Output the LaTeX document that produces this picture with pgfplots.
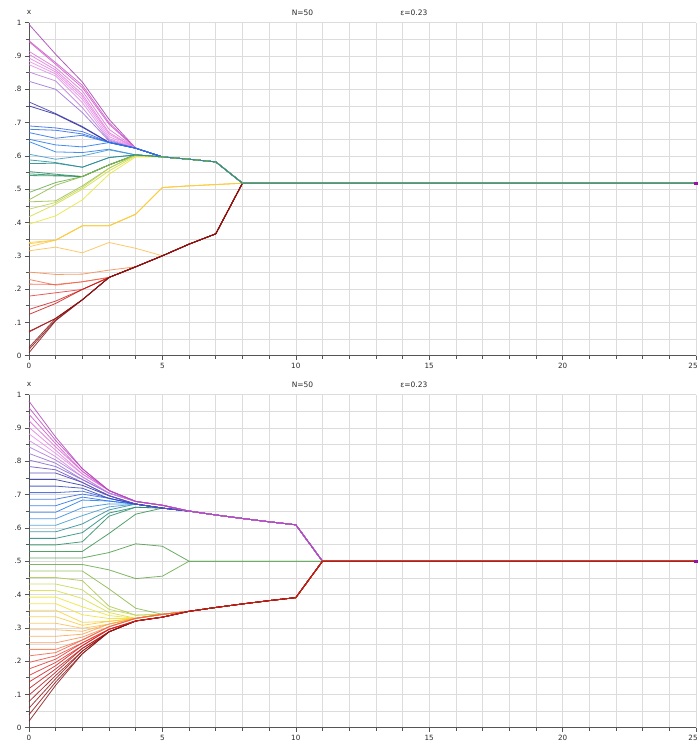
\documentclass[border=0pt]{standalone}
\usepackage{pgfplots}
\pgfplotsset{compat=1.18}
\usepackage{fontspec}
\setmainfont{DejaVu Sans}
\definecolor{gridc}{RGB}{220,220,220}
\definecolor{axc}{RGB}{85,85,85}
\definecolor{txtc}{RGB}{40,40,40}
\definecolor{endc}{RGB}{150,20,160}
\pgfplotsset{
 colormap={hkmap}{rgb255(0pt)=(130,20,20) rgb255(8pt)=(160,25,25) rgb255(14pt)=(215,35,35) rgb255(19pt)=(235,70,60) rgb255(23pt)=(245,115,80) rgb255(27pt)=(250,160,80) rgb255(32pt)=(252,195,80) rgb255(35pt)=(250,210,50) rgb255(39pt)=(238,232,50) rgb255(44pt)=(190,210,80) rgb255(48pt)=(120,175,70) rgb255(53pt)=(50,145,80) rgb255(58pt)=(30,135,135) rgb255(61pt)=(70,155,215) rgb255(65pt)=(30,120,240) rgb255(70pt)=(60,100,220) rgb255(75pt)=(45,45,160) rgb255(80pt)=(130,100,210) rgb255(84pt)=(170,120,220) rgb255(88pt)=(235,145,235) rgb255(94pt)=(210,90,205) rgb255(100pt)=(160,60,175)},
 hk/.style={color of colormap={#1 of hkmap}, draw=., line width=0.8pt, opacity=0.85, mark=none},
 hkaxis/.style={
  scale only axis, width=667pt, height=333pt,
  xmin=0, xmax=25, ymin=0, ymax=1,
  axis x line*=bottom, axis y line*=left,
  xtick={0,5,10,15,20}, minor xtick={1,2,3,4,6,7,8,9,11,12,13,14,16,17,18,19,21,22,23,24},
  extra x ticks={25},
  extra x tick style={xticklabel style={xshift=-3pt}},
  ytick={0,0.1,0.2,0.3,0.4,0.5,0.6,0.7,0.8,0.9,1},
  minor ytick={0.05,0.15,0.25,0.35,0.45,0.55,0.65,0.75,0.85,0.95},
  grid=both,
  major grid style={draw=gridc, line width=0.6pt},
  minor grid style={draw=gridc, line width=0.6pt},
  tick align=outside, major tick length=4pt, minor tick length=3pt,
  tick style={draw=axc, line width=0.6pt},
  axis line style={draw=axc, line width=0.9pt},
  ticklabel style={font=\fontsize{7.2}{8}\selectfont, text=txtc},
  /pgf/number format/assume math mode=true,
  yticklabel style={/pgf/number format/fixed, /pgf/number format/skip 0.},
  clip=false,
 }
}
\begin{document}
\begin{tikzpicture}
\path[use as bounding box] (0pt,0pt) rectangle (699pt,-749pt);
% ---------------- top panel: random initial opinions
\begin{axis}[hkaxis, at={(29pt,-355.7pt)}, anchor=south west]
\node[font=\fontsize{7.5}{9}\selectfont, text=txtc] at (rel axis cs:0,1.032) {x};
\node[font=\fontsize{7.5}{9}\selectfont, text=txtc] at (rel axis cs:0.41,1.031) {N=50};
\node[font=\fontsize{7.5}{9}\selectfont, text=txtc] at (rel axis cs:0.577,1.031) {ε=0.23};
% lower group
\addplot[hk=315] coordinates {(0,0.315)(1,0.326)(2,0.309)(3,0.340)(4,0.3225)(5,0.300)(6,0.335)(7,0.366)(8,0.518)(25,0.518)};
\addplot[hk=251] coordinates {(0,0.251)(1,0.244)(2,0.245)(3,0.257)(4,0.267)(5,0.300)(6,0.335)(7,0.366)(8,0.518)(25,0.518)};
\addplot[hk=229] coordinates {(0,0.229)(1,0.212)(2,0.222)(3,0.235)(4,0.267)(5,0.300)(6,0.335)(7,0.366)(8,0.518)(25,0.518)};
\addplot[hk=215] coordinates {(0,0.215)(1,0.214)(2,0.222)(3,0.235)(4,0.267)(5,0.300)(6,0.335)(7,0.366)(8,0.518)(25,0.518)};
\addplot[hk=179] coordinates {(0,0.179)(1,0.189)(2,0.199)(3,0.235)(4,0.267)(5,0.300)(6,0.335)(7,0.366)(8,0.518)(25,0.518)};
\addplot[hk=139] coordinates {(0,0.139)(1,0.164)(2,0.199)(3,0.235)(4,0.267)(5,0.300)(6,0.335)(7,0.366)(8,0.518)(25,0.518)};
\addplot[hk=124] coordinates {(0,0.124)(1,0.157)(2,0.199)(3,0.235)(4,0.267)(5,0.300)(6,0.335)(7,0.366)(8,0.518)(25,0.518)};
\addplot[hk=73] coordinates {(0,0.073)(1,0.112)(2,0.168)(3,0.235)(4,0.267)(5,0.300)(6,0.335)(7,0.366)(8,0.518)(25,0.518)};
\addplot[hk=71] coordinates {(0,0.071)(1,0.112)(2,0.168)(3,0.235)(4,0.267)(5,0.300)(6,0.335)(7,0.366)(8,0.518)(25,0.518)};
\addplot[hk=25] coordinates {(0,0.025)(1,0.112)(2,0.168)(3,0.235)(4,0.267)(5,0.300)(6,0.335)(7,0.366)(8,0.518)(25,0.518)};
\addplot[hk=19] coordinates {(0,0.019)(1,0.107)(2,0.168)(3,0.235)(4,0.267)(5,0.300)(6,0.335)(7,0.366)(8,0.518)(25,0.518)};
\addplot[hk=9] coordinates {(0,0.009)(1,0.105)(2,0.168)(3,0.235)(4,0.267)(5,0.300)(6,0.335)(7,0.366)(8,0.518)(25,0.518)};
% middle (gold) group
\addplot[hk=327] coordinates {(0,0.327)(1,0.347)(2,0.390)(3,0.390)(4,0.425)(5,0.505)(6,0.510)(7,0.514)(8,0.518)(25,0.518)};
\addplot[hk=336] coordinates {(0,0.336)(1,0.347)(2,0.390)(3,0.390)(4,0.425)(5,0.505)(6,0.510)(7,0.514)(8,0.518)(25,0.518)};
\addplot[hk=340] coordinates {(0,0.340)(1,0.347)(2,0.390)(3,0.390)(4,0.425)(5,0.505)(6,0.510)(7,0.514)(8,0.518)(25,0.518)};
% upper group
\addplot[hk=995] coordinates {(0,0.995)(1,0.905)(2,0.822)(3,0.710)(4,0.623)(5,0.597)(6,0.590)(7,0.582)(8,0.518)(25,0.518)};
\addplot[hk=946] coordinates {(0,0.946)(1,0.880)(2,0.812)(3,0.700)(4,0.623)(5,0.597)(6,0.590)(7,0.582)(8,0.518)(25,0.518)};
\addplot[hk=943] coordinates {(0,0.943)(1,0.875)(2,0.805)(3,0.695)(4,0.623)(5,0.597)(6,0.590)(7,0.582)(8,0.518)(25,0.518)};
\addplot[hk=914] coordinates {(0,0.914)(1,0.865)(2,0.795)(3,0.680)(4,0.623)(5,0.597)(6,0.590)(7,0.582)(8,0.518)(25,0.518)};
\addplot[hk=905] coordinates {(0,0.905)(1,0.858)(2,0.785)(3,0.670)(4,0.623)(5,0.597)(6,0.590)(7,0.582)(8,0.518)(25,0.518)};
\addplot[hk=894] coordinates {(0,0.894)(1,0.852)(2,0.778)(3,0.665)(4,0.623)(5,0.597)(6,0.590)(7,0.582)(8,0.518)(25,0.518)};
\addplot[hk=884] coordinates {(0,0.884)(1,0.846)(2,0.770)(3,0.658)(4,0.623)(5,0.597)(6,0.590)(7,0.582)(8,0.518)(25,0.518)};
\addplot[hk=874] coordinates {(0,0.874)(1,0.840)(2,0.760)(3,0.652)(4,0.623)(5,0.597)(6,0.590)(7,0.582)(8,0.518)(25,0.518)};
\addplot[hk=852] coordinates {(0,0.852)(1,0.825)(2,0.745)(3,0.648)(4,0.623)(5,0.597)(6,0.590)(7,0.582)(8,0.518)(25,0.518)};
\addplot[hk=824] coordinates {(0,0.824)(1,0.800)(2,0.730)(3,0.645)(4,0.623)(5,0.597)(6,0.590)(7,0.582)(8,0.518)(25,0.518)};
\addplot[hk=762] coordinates {(0,0.762)(1,0.727)(2,0.688)(3,0.641)(4,0.623)(5,0.597)(6,0.590)(7,0.582)(8,0.518)(25,0.518)};
\addplot[hk=750] coordinates {(0,0.750)(1,0.725)(2,0.686)(3,0.640)(4,0.623)(5,0.597)(6,0.590)(7,0.582)(8,0.518)(25,0.518)};
\addplot[hk=690] coordinates {(0,0.690)(1,0.684)(2,0.673)(3,0.641)(4,0.623)(5,0.597)(6,0.590)(7,0.582)(8,0.518)(25,0.518)};
\addplot[hk=680] coordinates {(0,0.680)(1,0.677)(2,0.666)(3,0.641)(4,0.623)(5,0.597)(6,0.590)(7,0.582)(8,0.518)(25,0.518)};
\addplot[hk=670] coordinates {(0,0.670)(1,0.653)(2,0.662)(3,0.640)(4,0.623)(5,0.597)(6,0.590)(7,0.582)(8,0.518)(25,0.518)};
\addplot[hk=650] coordinates {(0,0.650)(1,0.633)(2,0.627)(3,0.640)(4,0.623)(5,0.597)(6,0.590)(7,0.582)(8,0.518)(25,0.518)};
\addplot[hk=643] coordinates {(0,0.643)(1,0.612)(2,0.610)(3,0.620)(4,0.603)(5,0.597)(6,0.590)(7,0.582)(8,0.518)(25,0.518)};
\addplot[hk=605] coordinates {(0,0.605)(1,0.590)(2,0.600)(3,0.618)(4,0.603)(5,0.597)(6,0.590)(7,0.582)(8,0.518)(25,0.518)};
\addplot[hk=553] coordinates {(0,0.553)(1,0.545)(2,0.538)(3,0.573)(4,0.603)(5,0.597)(6,0.590)(7,0.582)(8,0.518)(25,0.518)};
\addplot[hk=546] coordinates {(0,0.546)(1,0.542)(2,0.538)(3,0.573)(4,0.603)(5,0.597)(6,0.590)(7,0.582)(8,0.518)(25,0.518)};
\addplot[hk=541] coordinates {(0,0.541)(1,0.540)(2,0.538)(3,0.573)(4,0.603)(5,0.597)(6,0.590)(7,0.582)(8,0.518)(25,0.518)};
\addplot[hk=490] coordinates {(0,0.490)(1,0.520)(2,0.538)(3,0.573)(4,0.603)(5,0.597)(6,0.590)(7,0.582)(8,0.518)(25,0.518)};
\addplot[hk=468] coordinates {(0,0.468)(1,0.512)(2,0.538)(3,0.573)(4,0.603)(5,0.597)(6,0.590)(7,0.582)(8,0.518)(25,0.518)};
\addplot[hk=462] coordinates {(0,0.462)(1,0.465)(2,0.510)(3,0.563)(4,0.603)(5,0.597)(6,0.590)(7,0.582)(8,0.518)(25,0.518)};
\addplot[hk=440] coordinates {(0,0.440)(1,0.460)(2,0.505)(3,0.563)(4,0.603)(5,0.597)(6,0.590)(7,0.582)(8,0.518)(25,0.518)};
\addplot[hk=417] coordinates {(0,0.417)(1,0.455)(2,0.500)(3,0.555)(4,0.600)(5,0.597)(6,0.590)(7,0.582)(8,0.518)(25,0.518)};
\addplot[hk=395] coordinates {(0,0.395)(1,0.420)(2,0.468)(3,0.545)(4,0.597)(5,0.597)(6,0.590)(7,0.582)(8,0.518)(25,0.518)};
\addplot[hk=577] coordinates {(0,0.577)(1,0.578)(2,0.566)(3,0.595)(4,0.603)(5,0.597)(6,0.590)(7,0.582)(8,0.518)(25,0.518)};
\addplot[hk=588] coordinates {(0,0.588)(1,0.580)(2,0.566)(3,0.595)(4,0.603)(5,0.597)(6,0.590)(7,0.582)(8,0.518)(25,0.518)};
\addplot[only marks, mark=square*, mark size=1.4pt, color=endc] coordinates {(25,0.518)};
\end{axis}
% ---------------- bottom panel: equidistant initial opinions
\begin{axis}[hkaxis, at={(29pt,-727.7pt)}, anchor=south west]
\node[font=\fontsize{7.5}{9}\selectfont, text=txtc] at (rel axis cs:0,1.032) {x};
\node[font=\fontsize{7.5}{9}\selectfont, text=txtc] at (rel axis cs:0.41,1.031) {N=50};
\node[font=\fontsize{7.5}{9}\selectfont, text=txtc] at (rel axis cs:0.577,1.031) {ε=0.23};
% upper group
\addplot[hk=529] coordinates {(0,0.5294)(1,0.5294)(2,0.5294)(3,0.5832)(4,0.6413)(5,0.6595)(6,0.6505)(7,0.6389)(8,0.6283)(9,0.6184)(10,0.6093)(11,0.5)(25,0.5)};
\addplot[hk=549] coordinates {(0,0.5490)(1,0.5490)(2,0.5584)(3,0.6351)(4,0.6621)(5,0.6595)(6,0.6505)(7,0.6389)(8,0.6283)(9,0.6184)(10,0.6093)(11,0.5)(25,0.5)};
\addplot[hk=569] coordinates {(0,0.5686)(1,0.5686)(2,0.5859)(3,0.6447)(4,0.6621)(5,0.6595)(6,0.6505)(7,0.6389)(8,0.6283)(9,0.6184)(10,0.6093)(11,0.5)(25,0.5)};
\addplot[hk=588] coordinates {(0,0.5882)(1,0.5882)(2,0.6120)(3,0.6541)(4,0.6716)(5,0.6595)(6,0.6505)(7,0.6389)(8,0.6283)(9,0.6184)(10,0.6093)(11,0.5)(25,0.5)};
\addplot[hk=608] coordinates {(0,0.6078)(1,0.6078)(2,0.6369)(3,0.6632)(4,0.6716)(5,0.6595)(6,0.6505)(7,0.6389)(8,0.6283)(9,0.6184)(10,0.6093)(11,0.5)(25,0.5)};
\addplot[hk=627] coordinates {(0,0.6275)(1,0.6275)(2,0.6607)(3,0.6721)(4,0.6716)(5,0.6595)(6,0.6505)(7,0.6389)(8,0.6283)(9,0.6184)(10,0.6093)(11,0.5)(25,0.5)};
\addplot[hk=647] coordinates {(0,0.6471)(1,0.6471)(2,0.6836)(3,0.6807)(4,0.6716)(5,0.6595)(6,0.6505)(7,0.6389)(8,0.6283)(9,0.6184)(10,0.6093)(11,0.5)(25,0.5)};
\addplot[hk=667] coordinates {(0,0.6667)(1,0.6667)(2,0.6926)(3,0.6807)(4,0.6716)(5,0.6595)(6,0.6505)(7,0.6389)(8,0.6283)(9,0.6184)(10,0.6093)(11,0.5)(25,0.5)};
\addplot[hk=686] coordinates {(0,0.6863)(1,0.6863)(2,0.7015)(3,0.6888)(4,0.6716)(5,0.6595)(6,0.6505)(7,0.6389)(8,0.6283)(9,0.6184)(10,0.6093)(11,0.5)(25,0.5)};
\addplot[hk=706] coordinates {(0,0.7059)(1,0.7059)(2,0.7104)(3,0.6888)(4,0.6716)(5,0.6595)(6,0.6505)(7,0.6389)(8,0.6283)(9,0.6184)(10,0.6093)(11,0.5)(25,0.5)};
\addplot[hk=725] coordinates {(0,0.7255)(1,0.7255)(2,0.7192)(3,0.6888)(4,0.6716)(5,0.6595)(6,0.6505)(7,0.6389)(8,0.6283)(9,0.6184)(10,0.6093)(11,0.5)(25,0.5)};
\addplot[hk=745] coordinates {(0,0.7451)(1,0.7451)(2,0.7279)(3,0.6967)(4,0.6716)(5,0.6595)(6,0.6505)(7,0.6389)(8,0.6283)(9,0.6184)(10,0.6093)(11,0.5)(25,0.5)};
\addplot[hk=765] coordinates {(0,0.7647)(1,0.7647)(2,0.7366)(3,0.6967)(4,0.6716)(5,0.6595)(6,0.6505)(7,0.6389)(8,0.6283)(9,0.6184)(10,0.6093)(11,0.5)(25,0.5)};
\addplot[hk=784] coordinates {(0,0.7843)(1,0.7745)(2,0.7366)(3,0.6967)(4,0.6716)(5,0.6595)(6,0.6505)(7,0.6389)(8,0.6283)(9,0.6184)(10,0.6093)(11,0.5)(25,0.5)};
\addplot[hk=804] coordinates {(0,0.8039)(1,0.7843)(2,0.7451)(3,0.7045)(4,0.6795)(5,0.6680)(6,0.6505)(7,0.6389)(8,0.6283)(9,0.6184)(10,0.6093)(11,0.5)(25,0.5)};
\addplot[hk=824] coordinates {(0,0.8235)(1,0.7941)(2,0.7451)(3,0.7045)(4,0.6795)(5,0.6680)(6,0.6505)(7,0.6389)(8,0.6283)(9,0.6184)(10,0.6093)(11,0.5)(25,0.5)};
\addplot[hk=843] coordinates {(0,0.8431)(1,0.8039)(2,0.7535)(3,0.7045)(4,0.6795)(5,0.6680)(6,0.6505)(7,0.6389)(8,0.6283)(9,0.6184)(10,0.6093)(11,0.5)(25,0.5)};
\addplot[hk=863] coordinates {(0,0.8627)(1,0.8137)(2,0.7535)(3,0.7045)(4,0.6795)(5,0.6680)(6,0.6505)(7,0.6389)(8,0.6283)(9,0.6184)(10,0.6093)(11,0.5)(25,0.5)};
\addplot[hk=882] coordinates {(0,0.8824)(1,0.8235)(2,0.7618)(3,0.7121)(4,0.6795)(5,0.6680)(6,0.6505)(7,0.6389)(8,0.6283)(9,0.6184)(10,0.6093)(11,0.5)(25,0.5)};
\addplot[hk=902] coordinates {(0,0.9020)(1,0.8333)(2,0.7618)(3,0.7121)(4,0.6795)(5,0.6680)(6,0.6505)(7,0.6389)(8,0.6283)(9,0.6184)(10,0.6093)(11,0.5)(25,0.5)};
\addplot[hk=922] coordinates {(0,0.9216)(1,0.8431)(2,0.7699)(3,0.7121)(4,0.6795)(5,0.6680)(6,0.6505)(7,0.6389)(8,0.6283)(9,0.6184)(10,0.6093)(11,0.5)(25,0.5)};
\addplot[hk=941] coordinates {(0,0.9412)(1,0.8529)(2,0.7699)(3,0.7121)(4,0.6795)(5,0.6680)(6,0.6505)(7,0.6389)(8,0.6283)(9,0.6184)(10,0.6093)(11,0.5)(25,0.5)};
\addplot[hk=961] coordinates {(0,0.9608)(1,0.8627)(2,0.7778)(3,0.7121)(4,0.6795)(5,0.6680)(6,0.6505)(7,0.6389)(8,0.6283)(9,0.6184)(10,0.6093)(11,0.5)(25,0.5)};
\addplot[hk=980] coordinates {(0,0.9804)(1,0.8725)(2,0.7778)(3,0.7121)(4,0.6795)(5,0.6680)(6,0.6505)(7,0.6389)(8,0.6283)(9,0.6184)(10,0.6093)(11,0.5)(25,0.5)};
% middle pair
\addplot[hk=490] coordinates {(0,0.4902)(1,0.4902)(2,0.4902)(3,0.4740)(4,0.4477)(5,0.4551)(6,0.5)(11,0.5)(25,0.5)};
\addplot[hk=510] coordinates {(0,0.5098)(1,0.5098)(2,0.5098)(3,0.5260)(4,0.5523)(5,0.5449)(6,0.5)(11,0.5)(25,0.5)};
% lower group
\addplot[hk=471] coordinates {(0,0.4706)(1,0.4706)(2,0.4706)(3,0.4168)(4,0.3587)(5,0.3405)(6,0.3495)(7,0.3611)(8,0.3717)(9,0.3816)(10,0.3907)(11,0.5)(25,0.5)};
\addplot[hk=451] coordinates {(0,0.4510)(1,0.4510)(2,0.4416)(3,0.3649)(4,0.3379)(5,0.3405)(6,0.3495)(7,0.3611)(8,0.3717)(9,0.3816)(10,0.3907)(11,0.5)(25,0.5)};
\addplot[hk=431] coordinates {(0,0.4314)(1,0.4314)(2,0.4141)(3,0.3553)(4,0.3379)(5,0.3405)(6,0.3495)(7,0.3611)(8,0.3717)(9,0.3816)(10,0.3907)(11,0.5)(25,0.5)};
\addplot[hk=412] coordinates {(0,0.4118)(1,0.4118)(2,0.3880)(3,0.3459)(4,0.3284)(5,0.3405)(6,0.3495)(7,0.3611)(8,0.3717)(9,0.3816)(10,0.3907)(11,0.5)(25,0.5)};
\addplot[hk=392] coordinates {(0,0.3922)(1,0.3922)(2,0.3631)(3,0.3368)(4,0.3284)(5,0.3405)(6,0.3495)(7,0.3611)(8,0.3717)(9,0.3816)(10,0.3907)(11,0.5)(25,0.5)};
\addplot[hk=373] coordinates {(0,0.3725)(1,0.3725)(2,0.3393)(3,0.3279)(4,0.3284)(5,0.3405)(6,0.3495)(7,0.3611)(8,0.3717)(9,0.3816)(10,0.3907)(11,0.5)(25,0.5)};
\addplot[hk=353] coordinates {(0,0.3529)(1,0.3529)(2,0.3164)(3,0.3193)(4,0.3284)(5,0.3405)(6,0.3495)(7,0.3611)(8,0.3717)(9,0.3816)(10,0.3907)(11,0.5)(25,0.5)};
\addplot[hk=333] coordinates {(0,0.3333)(1,0.3333)(2,0.3074)(3,0.3193)(4,0.3284)(5,0.3405)(6,0.3495)(7,0.3611)(8,0.3717)(9,0.3816)(10,0.3907)(11,0.5)(25,0.5)};
\addplot[hk=314] coordinates {(0,0.3137)(1,0.3137)(2,0.2985)(3,0.3112)(4,0.3284)(5,0.3405)(6,0.3495)(7,0.3611)(8,0.3717)(9,0.3816)(10,0.3907)(11,0.5)(25,0.5)};
\addplot[hk=294] coordinates {(0,0.2941)(1,0.2941)(2,0.2896)(3,0.3112)(4,0.3284)(5,0.3405)(6,0.3495)(7,0.3611)(8,0.3717)(9,0.3816)(10,0.3907)(11,0.5)(25,0.5)};
\addplot[hk=275] coordinates {(0,0.2745)(1,0.2745)(2,0.2808)(3,0.3112)(4,0.3284)(5,0.3405)(6,0.3495)(7,0.3611)(8,0.3717)(9,0.3816)(10,0.3907)(11,0.5)(25,0.5)};
\addplot[hk=255] coordinates {(0,0.2549)(1,0.2549)(2,0.2721)(3,0.3033)(4,0.3284)(5,0.3405)(6,0.3495)(7,0.3611)(8,0.3717)(9,0.3816)(10,0.3907)(11,0.5)(25,0.5)};
\addplot[hk=235] coordinates {(0,0.2353)(1,0.2353)(2,0.2634)(3,0.3033)(4,0.3284)(5,0.3405)(6,0.3495)(7,0.3611)(8,0.3717)(9,0.3816)(10,0.3907)(11,0.5)(25,0.5)};
\addplot[hk=216] coordinates {(0,0.2157)(1,0.2255)(2,0.2634)(3,0.3033)(4,0.3284)(5,0.3405)(6,0.3495)(7,0.3611)(8,0.3717)(9,0.3816)(10,0.3907)(11,0.5)(25,0.5)};
\addplot[hk=196] coordinates {(0,0.1961)(1,0.2157)(2,0.2549)(3,0.2955)(4,0.3205)(5,0.3320)(6,0.3495)(7,0.3611)(8,0.3717)(9,0.3816)(10,0.3907)(11,0.5)(25,0.5)};
\addplot[hk=176] coordinates {(0,0.1765)(1,0.2059)(2,0.2549)(3,0.2955)(4,0.3205)(5,0.3320)(6,0.3495)(7,0.3611)(8,0.3717)(9,0.3816)(10,0.3907)(11,0.5)(25,0.5)};
\addplot[hk=157] coordinates {(0,0.1569)(1,0.1961)(2,0.2465)(3,0.2955)(4,0.3205)(5,0.3320)(6,0.3495)(7,0.3611)(8,0.3717)(9,0.3816)(10,0.3907)(11,0.5)(25,0.5)};
\addplot[hk=118] coordinates {(0,0.1176)(1,0.1765)(2,0.2382)(3,0.2879)(4,0.3205)(5,0.3320)(6,0.3495)(7,0.3611)(8,0.3717)(9,0.3816)(10,0.3907)(11,0.5)(25,0.5)};
\addplot[hk=98] coordinates {(0,0.0980)(1,0.1667)(2,0.2382)(3,0.2879)(4,0.3205)(5,0.3320)(6,0.3495)(7,0.3611)(8,0.3717)(9,0.3816)(10,0.3907)(11,0.5)(25,0.5)};
\addplot[hk=78] coordinates {(0,0.0784)(1,0.1569)(2,0.2301)(3,0.2879)(4,0.3205)(5,0.3320)(6,0.3495)(7,0.3611)(8,0.3717)(9,0.3816)(10,0.3907)(11,0.5)(25,0.5)};
\addplot[hk=59] coordinates {(0,0.0588)(1,0.1471)(2,0.2301)(3,0.2879)(4,0.3205)(5,0.3320)(6,0.3495)(7,0.3611)(8,0.3717)(9,0.3816)(10,0.3907)(11,0.5)(25,0.5)};
\addplot[hk=39] coordinates {(0,0.0392)(1,0.1373)(2,0.2222)(3,0.2879)(4,0.3205)(5,0.3320)(6,0.3495)(7,0.3611)(8,0.3717)(9,0.3816)(10,0.3907)(11,0.5)(25,0.5)};
\addplot[hk=20] coordinates {(0,0.0196)(1,0.1275)(2,0.2222)(3,0.2879)(4,0.3205)(5,0.3320)(6,0.3495)(7,0.3611)(8,0.3717)(9,0.3816)(10,0.3907)(11,0.5)(25,0.5)};
\addplot[hk=137] coordinates {(0,0.1373)(1,0.1863)(2,0.2465)(3,0.2955)(4,0.3205)(5,0.3320)(6,0.3495)(7,0.3611)(8,0.3717)(9,0.3816)(10,0.3907)(11,0.5)(25,0.5)};
\addplot[only marks, mark=square*, mark size=1.4pt, color=endc] coordinates {(25,0.5)};
\end{axis}
\end{tikzpicture}
\end{document}
